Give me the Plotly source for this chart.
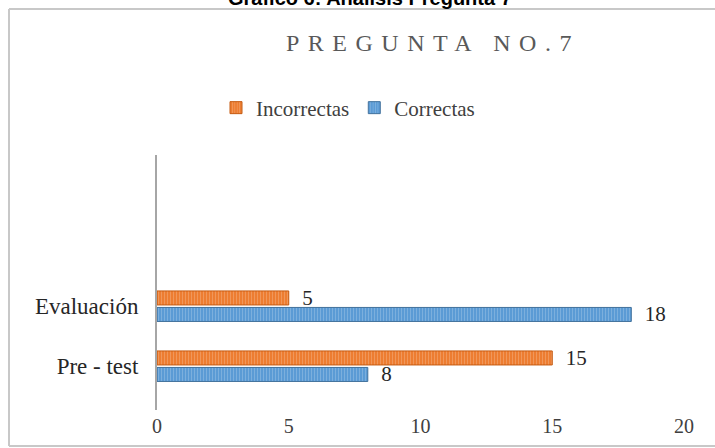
import plotly.graph_objects as go

# ---- data ----
categories = ["Pre - test", "Evaluación"]
correctas = [8, 18]
incorrectas = [15, 5]
x_ticks = [0, 5, 10, 15, 20]
chart_title = "PREGUNTA NO.7"
heading = "Gráfico 6: Análisis Pregunta 7"

W, H = 715, 448
# plot area in reference pixels: x 157..684, y 155..410
L, T = 157, 155
R, B = W - 684, H - 410
PW, PH = W - L - R, H - T - B

def px(xp):
    return (xp - L) / PW

def py(yp):
    return (H - B - yp) / PH

serif = "Liberation Serif, Times New Roman, serif"
label_font = dict(family=serif, size=21, color="#262626")

fig = go.Figure()
fig.add_trace(go.Bar(
    y=categories, x=correctas, name="Correctas", orientation="h",
    marker=dict(color="#5B9BD5", line=dict(color="#41719C", width=1),
                pattern=dict(shape="|", fgcolor="#9DC3E6", size=3, solidity=0.35)),
    text=correctas, texttemplate="  %{x}", textposition="outside",
    textfont=label_font, outsidetextfont=label_font,
    constraintext="none", cliponaxis=False,
))
fig.add_trace(go.Bar(
    y=categories, x=incorrectas, name="Incorrectas", orientation="h",
    marker=dict(color="#ED7D31", line=dict(color="#C55A11", width=1),
                pattern=dict(shape="|", fgcolor="#F4B183", size=3, solidity=0.35)),
    text=incorrectas, texttemplate="  %{x}", textposition="outside",
    textfont=label_font, outsidetextfont=label_font,
    constraintext="none", cliponaxis=False,
))

xl, xr, yt, yb = px(9), px(760), py(9), py(446)
border_line = dict(color="#C8C8C8", width=2)
border = [
    dict(type="line", xref="paper", yref="paper", x0=xl, x1=xr, y0=yt, y1=yt,
         line=border_line, layer="below"),
    dict(type="line", xref="paper", yref="paper", x0=xl, x1=xl, y0=yb, y1=yt,
         line=border_line, layer="below"),
    dict(type="line", xref="paper", yref="paper", x0=xl, x1=xr, y0=yb, y1=yb,
         line=border_line, layer="below"),
]

fig.update_layout(
    width=W, height=H,
    margin=dict(l=L, r=R, t=T, b=B),
    paper_bgcolor="white", plot_bgcolor="white",
    barmode="group", bargap=0.45, bargroupgap=0.15,
    font=dict(family=serif, color="#595959"),
    showlegend=True,
    legend=dict(orientation="h", traceorder="reversed",
                x=px(348), xanchor="center", y=py(108), yanchor="middle",
                font=dict(family=serif, size=21, color="#404040"),
                itemwidth=30, bgcolor="rgba(0,0,0,0)"),
    xaxis=dict(range=[0, 20], tickvals=x_ticks, showgrid=False, zeroline=False,
               showline=False, ticks="", ticklabelstandoff=2,
               tickfont=dict(family=serif, size=20, color="#404040")),
    yaxis=dict(type="category", range=[-0.73, 3.52], showgrid=False,
               showline=True, linecolor="#A6A6A6", linewidth=2, ticks="",
               ticklabelstandoff=12,
               tickfont=dict(family=serif, size=23, color="#262626")),
    shapes=border,
    annotations=[
        dict(text=f'<span style="letter-spacing:8.5px">{chart_title}</span>',
             xref="paper", yref="paper", x=px(433), y=py(43),
             xanchor="center", yanchor="middle", showarrow=False,
             font=dict(family=serif, size=24, color="#595959")),
        dict(text=f"<b>{heading}</b>", xref="paper", yref="paper",
             x=px(370), y=py(-2), xanchor="center", yanchor="middle",
             showarrow=False,
             font=dict(family="Liberation Sans, Arial, sans-serif", size=20, color="#000000")),
    ],
)

fig.write_html("out.html", config={"displayModeBar": False},
               post_script="document.body.style.margin='0';")
